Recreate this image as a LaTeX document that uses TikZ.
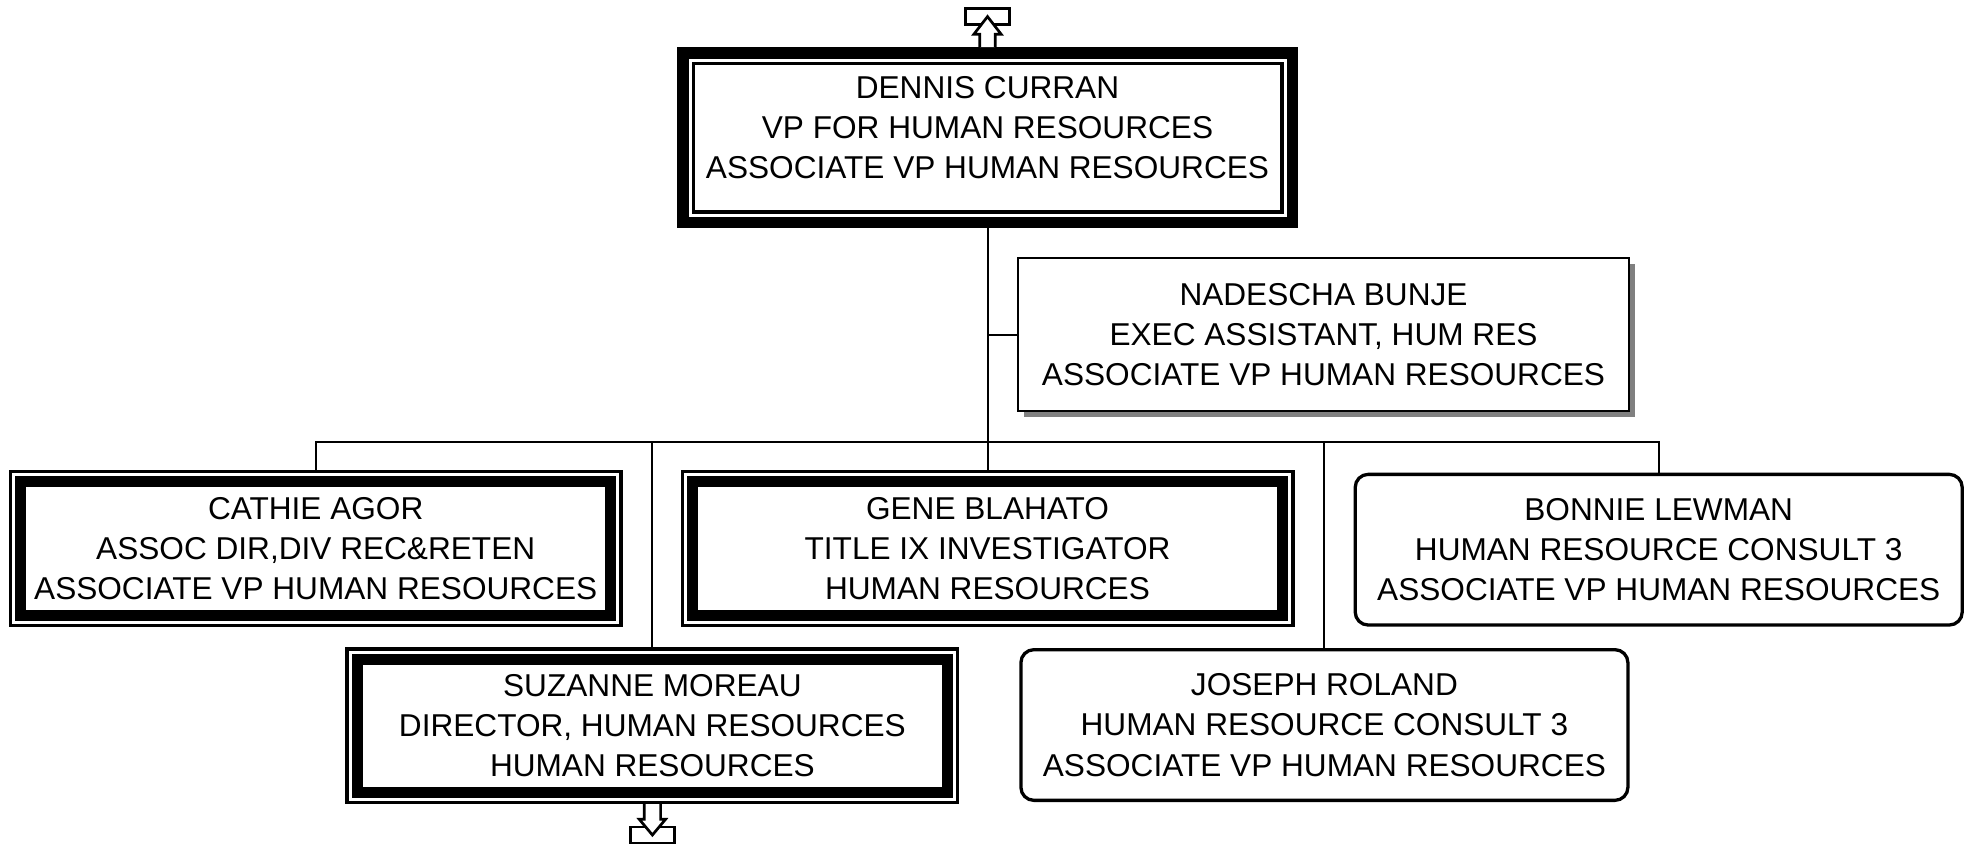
\documentclass[tikz,border=0pt]{standalone}
\usepackage{fontspec}
\setmainfont{Liberation Sans}
\usetikzlibrary{shadows}

\begin{document}
\begin{tikzpicture}[x=0.5pt, y=0.5pt,
  every node/.style={align=center, inner sep=0pt, outer sep=0pt,
                     font=\fontsize{15.8pt}{20.1pt}\selectfont},
  txt/.style={execute at begin node={\rule{0pt}{\dimexpr\fontcharht\font`H+1.25pt\relax}}},
  headbox/.style={rectangle, txt, minimum width=310.5pt, minimum height=90.5pt},
  mgrbox/.style={rectangle, txt, minimum width=307pt, minimum height=78.5pt},
  asstbox/.style={rectangle, txt, draw, line width=1pt, fill=white,
                  minimum width=305.5pt, minimum height=76.5pt,
                  drop shadow={shadow xshift=3pt, shadow yshift=-3pt, fill=black!50, opacity=1}},
  staffbox/.style={rectangle, txt, draw, line width=1.65pt, rounded corners=6.5pt,
                   minimum width=303.5pt, minimum height=75.35pt},
  stub/.style={rectangle, draw, line width=1.35pt, minimum width=22.2pt, minimum height=8pt},
  hollow/.style={draw, line width=1.35pt, fill=white, line join=miter},
  link/.style={draw, line width=1pt}
]
\useasboundingbox (0,0) rectangle (1973,-846);

\node[headbox]  (dennis)   at (987.5,-137.5) {DENNIS CURRAN\\VP FOR HUMAN RESOURCES\\ASSOCIATE VP HUMAN RESOURCES\rule[-10.25pt]{0pt}{0pt}};
\node[asstbox]  (nadescha) at (1323.5,-334.5) {NADESCHA BUNJE\\EXEC ASSISTANT, HUM RES\\ASSOCIATE VP HUMAN RESOURCES};
\node[mgrbox]   (cathie)   at (315.7,-548.5)  {CATHIE AGOR\\ASSOC DIR,DIV REC\&RETEN\\ASSOCIATE VP HUMAN RESOURCES};
\node[mgrbox]   (gene)     at (987.5,-548.5)  {GENE BLAHATO\\TITLE IX INVESTIGATOR\\HUMAN RESOURCES};
\node[staffbox] (bonnie)   at (1658.7,-549.7) {BONNIE LEWMAN\\HUMAN RESOURCE CONSULT 3\\ASSOCIATE VP HUMAN RESOURCES};
\node[mgrbox]   (suzanne)  at (652.4,-725.7)  {SUZANNE MOREAU\\DIRECTOR, HUMAN RESOURCES\\HUMAN RESOURCES};
\node[staffbox] (joseph)   at (1324.4,-725)   {JOSEPH ROLAND\\HUMAN RESOURCE CONSULT 3\\ASSOCIATE VP HUMAN RESOURCES};
\node[stub] (upstub)   at (987.5,-16.6) {};
\node[stub] (downstub) at (652.4,-835)  {};

% frames
\draw[line width=5.75pt] ([shift={(5.75,-5.75)}]dennis.north west) rectangle ([shift={(-5.75,5.75)}]dennis.south east);
\draw[line width=1.75pt] ([shift={(16.25,-16.25)}]dennis.north west) rectangle ([shift={(-16.25,16.25)}]dennis.south east);
\foreach \n in {cathie,gene,suzanne}{
  \draw[line width=1.65pt] ([shift={(1.65,-1.65)}]\n.north west) rectangle ([shift={(-1.65,1.65)}]\n.south east);
  \draw[line width=5.5pt] ([shift={(11.8,-11.8)}]\n.north west) rectangle ([shift={(-11.8,11.8)}]\n.south east);
}

% off-page arrows
\draw[hollow] ([shift={(-7.7,0)}]dennis.north) -- ++(0,12.7) -- ++(-6,0) -- (upstub.center)
  -- ([shift={(13.7,12.7)}]dennis.north) -- ++(-6,0) -- ([shift={(7.7,0)}]dennis.north);
\draw[hollow] ([shift={(-8.2,0)}]suzanne.south) -- ++(0,-15) -- ++(-5,0) -- (downstub.center)
  -- ([shift={(13.2,-15)}]suzanne.south) -- ++(-5,0) -- ([shift={(8.2,0)}]suzanne.south);

% connectors
\coordinate (bus) at (0,-442);
\draw[link] (dennis.south) -- (gene.north);
\draw[link] (dennis.south |- nadescha.west) -- (nadescha.west);
\draw[link] (cathie.north) |- (bus -| bonnie.north) -- (bonnie.north);
\draw[link] (bus -| suzanne.north) -- (suzanne.north);
\draw[link] (bus -| joseph.north) -- (joseph.north);
\end{tikzpicture}
\end{document}
